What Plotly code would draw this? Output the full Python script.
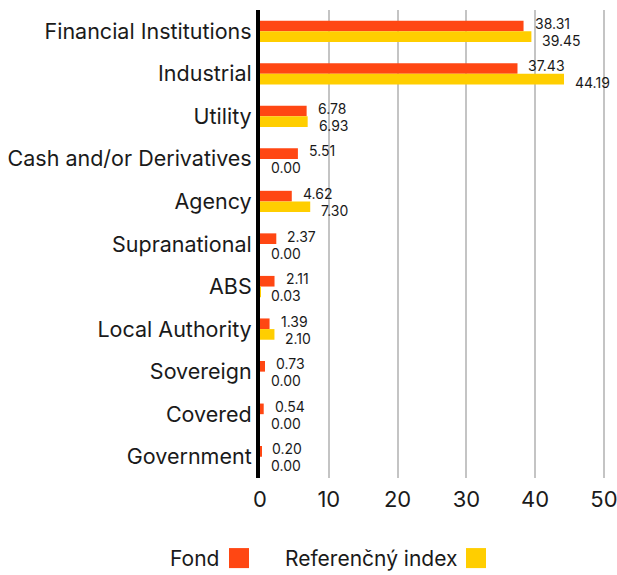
import plotly.graph_objects as go

categories = ["Financial Institutions", "Industrial", "Utility", "Cash and/or Derivatives",
              "Agency", "Supranational", "ABS", "Local Authority", "Sovereign", "Covered", "Government"]
fond = [38.31, 37.43, 6.78, 5.51, 4.62, 2.37, 2.11, 1.39, 0.73, 0.54, 0.20]
index_vals = [39.45, 44.19, 6.93, 0.00, 7.30, 0.00, 0.03, 2.10, 0.00, 0.00, 0.00]
series_names = ["Fond", "Referenčný index"]
colors = ["#FF4713", "#FFCE00"]
x_ticks = [0, 10, 20, 30, 40, 50]

FONT = "Inter"
TXT = "#1a1a1a"

fig = go.Figure()
for name, vals, col in zip(series_names, [fond, index_vals], colors):
    fig.add_trace(go.Bar(y=categories, x=vals, orientation="h", name=name,
                         marker=dict(color=col, line=dict(width=0)), showlegend=False))

annotations = []
for vals, ysh in [(fond, 8), (index_vals, -9)]:
    for c, v in zip(categories, vals):
        annotations.append(dict(x=v, y=c, xref="x", yref="y", text=f"{v:.2f}",
                                showarrow=False, xanchor="left", yanchor="middle",
                                xshift=9, yshift=ysh,
                                font=dict(family=FONT, size=14, color=TXT)))

# legend (text left of swatch)
L, R = 260.0, 605.0
W = R - L
H, B = 467.5, 478.0
def px(x): return (x - L) / W
def py(y): return (B - y) / H

legend_items = [(series_names[0], colors[0], 221, 229), (series_names[1], colors[1], 459, 466)]
shapes = []
for name, col, text_right, box_left in legend_items:
    annotations.append(dict(x=px(text_right), y=py(558), xref="paper", yref="paper",
                            text=name, showarrow=False, xanchor="right", yanchor="middle",
                            font=dict(family=FONT, size=21, color=TXT)))
    shapes.append(dict(type="rect", xref="paper", yref="paper",
                       x0=px(box_left), x1=px(box_left + 20), y0=py(568), y1=py(548),
                       fillcolor=col, line=dict(width=0)))

fig.update_layout(
    width=617, height=575,
    margin=dict(l=260, r=12, t=10, b=97),
    paper_bgcolor="white", plot_bgcolor="white",
    barmode="group", bargap=0.5, bargroupgap=0,
    annotations=annotations, shapes=shapes,
    showlegend=False,
    font=dict(family=FONT, color=TXT),
    xaxis=dict(range=[0, 50.15], tickvals=x_ticks, showgrid=True, gridcolor="#c4c4c4", gridwidth=2,
               zeroline=False, showline=False, ticks="", tickfont=dict(size=22, family=FONT, color=TXT),
               ticklabelstandoff=6, automargin=False, ticklabeloverflow="allow"),
    yaxis=dict(autorange="reversed", showgrid=False, zeroline=False,
               showline=True, linecolor="black", linewidth=4, ticks="",
               tickfont=dict(size=21.5, family=FONT, color=TXT), ticklabelstandoff=0,
               automargin=False),
)

fig.write_html("out.html")
